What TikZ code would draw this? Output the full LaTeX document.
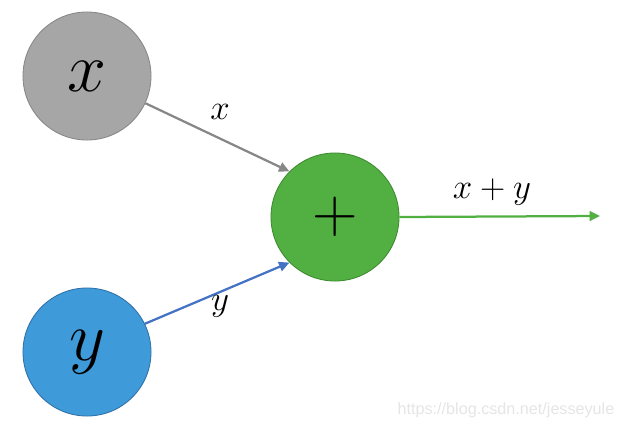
\documentclass[tikz,border=0pt]{standalone}
\usepackage{fontspec}
\newfontfamily\markfont{Liberation Sans}
\usepackage{amsmath}
\usetikzlibrary{positioning,arrows.meta}
\definecolor{cgray}{HTML}{A6A6A6}
\definecolor{cgrayln}{HTML}{878787}
\definecolor{cgreen}{HTML}{52B043}
\definecolor{cgreenln}{HTML}{3C8A2E}
\definecolor{cblue}{HTML}{3E9AD8}
\definecolor{cblueln}{HTML}{2F6FA8}
\definecolor{carrblue}{HTML}{4472C4}
\newcommand{\bigsym}[2]{\scalebox{#1}{$#2$}}
\tikzset{
  var/.style={circle, minimum size=3.2cm, inner sep=0pt, line width=0.6pt,
              font=\fontsize{24.88}{25}\selectfont},
  op/.style={circle, minimum size=3.2cm, inner sep=0pt, line width=0.6pt,
             draw=cgreenln, fill=cgreen, font=\fontsize{24.88}{25}\selectfont},
  lbl/.style={font=\fontsize{24.88}{25}\selectfont, inner sep=0pt},
  flow/.style={-{Triangle[length=2.6mm, width=2.4mm]}, line width=1.6pt}
}
\begin{document}
\begin{tikzpicture}[x=0.025cm, y=-0.025cm]
\useasboundingbox (0,0) rectangle (623,429);
\node[var, draw=cgrayln, fill=cgray] (xin) at (87,76) {\bigsym{2}{x}};
\node[var, draw=cblueln, fill=cblue] (yin) at (87,352) {\bigsym{2}{y}};
\node[op] (sum) at (335,217) {\bigsym{1.8}{\mathbf{+}}};
\coordinate (out) at (600,216);
\draw[flow, draw=cgrayln, fill=cgrayln] (xin.-25) -- (sum.135);
\draw[flow, draw=carrblue, fill=carrblue] (yin.26) -- (sum.225);
\draw[flow, draw=cgreen, fill=cgreen] (sum.east) -- (out);
\node[lbl] (xlbl) at (220,112) {$x$};
\node[lbl] (ylbl) at (220,306) {$y$};
\node[lbl] (slbl) at (492,192) {$x+y$};
\node[font=\markfont\fontsize{11.5}{11.5}\selectfont, text=gray!20] (mark) at (506,410) {https://blog.csdn.net/jesseyule};
\end{tikzpicture}
\end{document}
